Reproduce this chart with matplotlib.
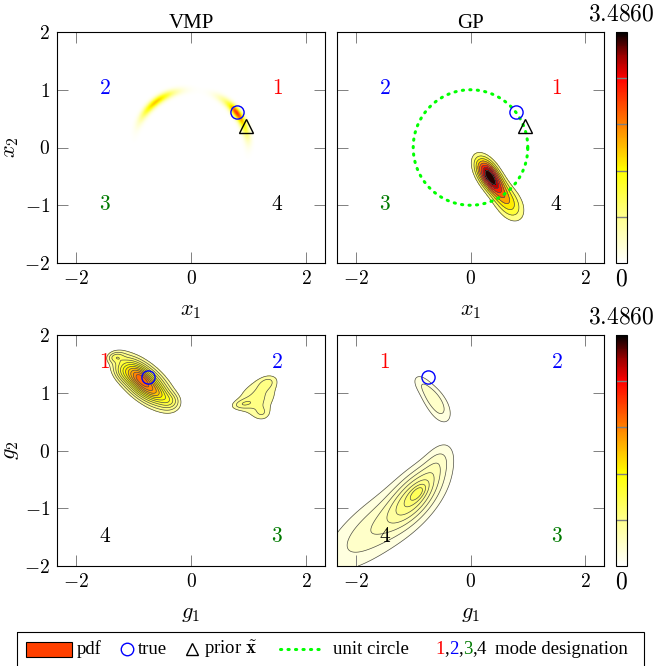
#!/usr/bin/env python3
import numpy as np
import matplotlib

matplotlib.use("Agg")
import matplotlib.pyplot as plt
from matplotlib.cm import ScalarMappable
from matplotlib.colors import LinearSegmentedColormap, Normalize
from matplotlib.lines import Line2D
from matplotlib.patches import Rectangle

PDF_MAX = 3.486
X_RANGE = (-2.33, 2.33)
Y_RANGE = (-2.0, 2.0)
X_TICKS = [-2, 0, 2]
Y_TICKS = [-2, -1, 0, 1, 2]

TRUE_X = (0.80, 0.62)
PRIOR_X = (0.95, 0.37)
TRUE_G = (-0.75, 1.28)
UNIT_RADIUS = 1.0

MODE_LABELS = ["1", "2", "3", "4"]
MODE_COLORS = ["#ff0000", "#0000ff", "#007a00", "#000000"]
MODE_POS_X = [(1.5, 1.0), (-1.5, 1.0), (-1.5, -1.0), (1.5, -1.0)]
MODE_POS_G = [(-1.5, 1.5), (1.5, 1.5), (1.5, -1.5), (-1.5, -1.5)]

# VMP in x-space: mass on the unit circle, bumps along the angle (deg)
VMP_X_ANGLE = [25, 45, 38, 128]
VMP_X_AMP = [1.3, 0.9, 1.0, 1.7]
VMP_X_WIDTH = [12, 12, 6, 15]
VMP_X_RADIAL_SD = 0.048

# blobs: centre, height, major/minor sd, angle (deg)
GP_X_CX = [0.30, 0.47, 0.68]
GP_X_CY = [-0.45, -0.70, -0.97]
GP_X_AMP = [3.0, 1.2, 1.3]
GP_X_SMAJ = [0.22, 0.21, 0.25]
GP_X_SMIN = [0.12, 0.11, 0.16]
GP_X_ANG = [-58, -58, -58]

VMP_G_CX = [-0.80, -0.85, -0.88, -0.60, -1.32, -0.35, -1.20, 1.15, 0.88, 1.35, 1.25]
VMP_G_CY = [1.18, 1.20, 1.25, 1.00, 1.62, 0.85, 1.35, 0.92, 0.80, 1.20, 0.62]
VMP_G_AMP = [1.00, 0.80, 0.50, 0.30, 0.35, 0.30, 0.20, 0.70, 0.30, 0.28, 0.28]
VMP_G_SMAJ = [0.52, 0.36, 0.18, 0.15, 0.10, 0.12, 0.12, 0.38, 0.15, 0.14, 0.12]
VMP_G_SMIN = [0.24, 0.17, 0.09, 0.08, 0.06, 0.10, 0.10, 0.28, 0.06, 0.09, 0.10]
VMP_G_ANG = [-40, -42, -45, -30, 10, 0, -40, 30, 10, 20, 0]

GP_G_CX = [-0.95, -1.60, -0.55, -0.92, -0.85, -0.55, -0.70]
GP_G_CY = [-0.75, -1.30, -0.15, -0.73, 1.15, 0.75, 0.95]
GP_G_AMP = [0.60, 0.38, 0.17, 0.22, 0.20, 0.30, 0.16]
GP_G_SMAJ = [0.42, 0.80, 0.25, 0.12, 0.16, 0.22, 0.15]
GP_G_SMIN = [0.20, 0.30, 0.15, 0.06, 0.10, 0.13, 0.11]
GP_G_ANG = [50, 38, 60, 45, -50, -60, -55]

# (first level, number of levels) of each contour panel
LEVELS_GP_X = (0.55, 9)
LEVELS_VMP_G = (0.50, 12)
LEVELS_GP_G = (0.14, 8)

CMAP = LinearSegmentedColormap.from_list(
    "pdf",
    [(0.0, "#ffffff"), (0.2, "#ffff8c"), (0.4, "#ffff00"), (0.6, "#ff8000"),
     (0.8, "#ff0000"), (0.9, "#990000"), (1.0, "#000000")],
)
NORM = Normalize(0, PDF_MAX)

plt.rcParams.update(
    {
        "mathtext.fontset": "cm",
        "font.family": "Liberation Serif",
        "font.size": 13,
        "axes.linewidth": 0.8,
    }
)


def blobs(X, Y, cx, cy, amp, smaj, smin, ang):
    z = np.zeros_like(X)
    for x0, y0, a, s1, s2, t in zip(cx, cy, amp, smaj, smin, ang):
        t = np.deg2rad(t)
        dx, dy = X - x0, Y - y0
        u = dx * np.cos(t) + dy * np.sin(t)
        v = -dx * np.sin(t) + dy * np.cos(t)
        z += a * np.exp(-0.5 * ((u / s1) ** 2 + (v / s2) ** 2))
    return z


def ring(X, Y):
    r = np.hypot(X, Y)
    th = np.degrees(np.arctan2(Y, X))
    prof = np.zeros_like(X)
    for a0, amp, w in zip(VMP_X_ANGLE, VMP_X_AMP, VMP_X_WIDTH):
        prof += amp * np.exp(-0.5 * ((th - a0) / w) ** 2)
    return prof * np.exp(-0.5 * ((r - UNIT_RADIUS) / VMP_X_RADIAL_SD) ** 2)


def contour_panel(ax, X, Y, Z, levels):
    first, n = levels
    lv = np.linspace(first, Z.max(), n)
    lv[-1] = Z.max() * 1.0001
    ax.contourf(X, Y, Z, levels=lv, cmap=CMAP, norm=NORM)
    ax.contour(X, Y, Z, levels=lv[:-1], colors="0.3", linewidths=0.5)


def style(ax, xlabel=None, ylabel=None, left_labels=True):
    ax.set_xlim(*X_RANGE)
    ax.set_ylim(*Y_RANGE)
    ax.set_xticks(X_TICKS, [f"${t}$" for t in X_TICKS])
    ax.set_yticks(Y_TICKS, [f"${t}$" for t in Y_TICKS])
    ax.tick_params(direction="in", length=8, width=0.7, color="0.5",
                   top=True, right=True, labelsize=14, pad=5)
    if not left_labels:
        ax.tick_params(labelleft=False)
    if xlabel:
        ax.set_xlabel(xlabel, fontsize=16, labelpad=10)
    if ylabel:
        ax.set_ylabel(ylabel, fontsize=16, labelpad=2)


def modes(ax, positions):
    for lab, col, (mx, my) in zip(MODE_LABELS, MODE_COLORS, positions):
        ax.text(mx, my, f"${lab}$", color=col, fontsize=15.5, ha="center", va="center")


def colorbar(fig, rect):
    cax = fig.add_axes(rect)
    cb = fig.colorbar(ScalarMappable(NORM, CMAP), cax=cax)
    cb.set_ticks([])
    cb.outline.set_linewidth(0.8)
    for k in range(1, 5):
        cax.axhline(PDF_MAX * k / 5, color="0.5", lw=1.0)
    cax.annotate(f"${PDF_MAX:.4f}$", xy=(0.5, 1), xycoords="axes fraction",
                 xytext=(0, 5), textcoords="offset points", ha="center",
                 va="bottom", fontsize=17)
    cax.annotate("$0$", xy=(0.5, 0), xycoords="axes fraction",
                 xytext=(0, -5), textcoords="offset points", ha="center",
                 va="top", fontsize=17)


xs = np.linspace(X_RANGE[0], X_RANGE[1], 420)
ys = np.linspace(Y_RANGE[0], Y_RANGE[1], 420)
X, Y = np.meshgrid(xs, ys)

fig = plt.figure(figsize=(6.57, 6.66), dpi=100)
W, H = 657, 666


def rect(l, t, r, b):
    return [l / W, 1 - b / H, (r - l) / W, (b - t) / H]


ax1 = fig.add_axes(rect(57, 32, 325, 263))
ax2 = fig.add_axes(rect(337, 32, 604, 263))
ax3 = fig.add_axes(rect(57, 335, 325, 566))
ax4 = fig.add_axes(rect(337, 335, 604, 566))

# VMP, x-space: smooth shading
ax1.imshow(ring(X, Y), extent=[*X_RANGE, *Y_RANGE], origin="lower", cmap=CMAP,
           norm=NORM, interpolation="bilinear", aspect="auto")

# GP, x-space
contour_panel(ax2, X, Y, blobs(X, Y, GP_X_CX, GP_X_CY, GP_X_AMP, GP_X_SMAJ,
                                GP_X_SMIN, GP_X_ANG), LEVELS_GP_X)
t = np.linspace(0, 2 * np.pi, 400)
ax2.plot(UNIT_RADIUS * np.cos(t), UNIT_RADIUS * np.sin(t), color="#00ff00",
         lw=2.2, dashes=(0.4, 2.05), dash_capstyle="round")

contour_panel(ax3, X, Y, blobs(X, Y, VMP_G_CX, VMP_G_CY, VMP_G_AMP, VMP_G_SMAJ,
                                VMP_G_SMIN, VMP_G_ANG), LEVELS_VMP_G)
contour_panel(ax4, X, Y, blobs(X, Y, GP_G_CX, GP_G_CY, GP_G_AMP, GP_G_SMAJ,
                                GP_G_SMIN, GP_G_ANG), LEVELS_GP_G)

for ax in (ax1, ax2):
    ax.plot(*TRUE_X, "o", ms=9.5, mfc="none", mec="#0000ff", mew=1.0)
    ax.plot(*PRIOR_X, "^", ms=9.5, mfc="none", mec="black", mew=1.0)
    modes(ax, MODE_POS_X)
for ax in (ax3, ax4):
    ax.plot(*TRUE_G, "o", ms=9.5, mfc="none", mec="#0000ff", mew=1.0)
    modes(ax, MODE_POS_G)

style(ax1, "$x_1$", "$x_2$")
style(ax2, "$x_1$", left_labels=False)
style(ax3, "$g_1$", "$g_2$")
style(ax4, "$g_1$", left_labels=False)
ax1.set_title("VMP", fontsize=15, pad=3)
ax2.set_title("GP", fontsize=15, pad=3)

colorbar(fig, rect(616, 32, 627, 263))
colorbar(fig, rect(616, 335, 627, 566))

# legend drawn in pixel coordinates
lg = fig.add_axes([0, 0, 1, 1], zorder=-1)
lg.set_xlim(0, W)
lg.set_ylim(H, 0)
lg.axis("off")
lg.add_patch(Rectangle((17, 632), 627, 45, fill=False, lw=0.8, ec="black", clip_on=False))
lg.add_patch(Rectangle((26, 642), 46, 15, fc="#ff4000", ec="black", lw=0.8))
yc = 649
fs = 13.5
lg.text(77, yc, "pdf", fontsize=fs, va="center")
lg.plot(127, yc, "o", ms=9, mfc="none", mec="#0000ff", mew=1.0)
lg.text(138, yc, "true", fontsize=fs, va="center")
lg.plot(192, yc, "^", ms=9, mfc="none", mec="black", mew=1.0)
lg.text(204, yc, r"prior $\tilde{\mathbf{x}}$", fontsize=fs, va="center")
lg.add_line(Line2D([280, 324], [yc, yc], color="#00ff00", lw=2.2,
                   dashes=(0.4, 2.05), dash_capstyle="round"))
lg.text(333, yc, "unit circle", fontsize=fs, va="center")

renderer = fig.canvas.get_renderer()
xpos = 435
parts = ["1", ",", "2", ",", "3", ",", "4"]
cols = [MODE_COLORS[0], "black", MODE_COLORS[1], "black", MODE_COLORS[2], "black", MODE_COLORS[3]]
for p, c in zip(parts, cols):
    tx = lg.text(xpos, yc, p, fontsize=fs, va="center", color=c)
    xpos += tx.get_window_extent(renderer).width
lg.text(495, yc, "mode designation", fontsize=fs, va="center")

fig.savefig("out.png", dpi=100)
